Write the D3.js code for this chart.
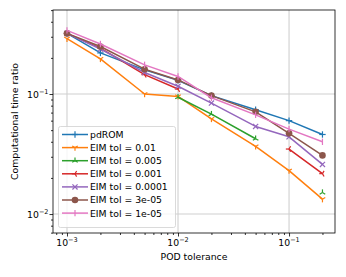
<!DOCTYPE html>
<html>
<head>
<meta charset="utf-8">
<script src="https://cdn.jsdelivr.net/npm/d3@7"></script>
<style>
  body { margin: 0; background: #fff; }
  text { font-family: "DejaVu Sans", sans-serif; }
</style>
</head>
<body>
<svg id="chart" width="346" height="277"></svg>
<script>
const podTol = [0.001, 0.002, 0.005, 0.01, 0.02, 0.05, 0.1, 0.2];
const pdROM   = [0.32, 0.22, 0.159, 0.13, 0.097, 0.074, 0.060, 0.046];
const eim0p01 = [0.289, 0.196, 0.100, 0.0955, 0.062, 0.0366, 0.023, 0.0133];
const eim0p005 = [null, null, null, 0.094, 0.068, 0.0424, null, 0.0151];
const eim0p001 = [0.32, 0.241, 0.145, 0.110, null, null, 0.0348, 0.0217];
const eim1e4  = [0.32, 0.237, 0.151, 0.116, 0.084, 0.0537, 0.044, 0.0259];
const eim3e5  = [0.32, 0.249, 0.161, 0.131, 0.097, 0.071, 0.047, 0.0308];
const eim1e5  = [0.339, 0.261, 0.175, 0.140, 0.093, 0.067, 0.051, 0.040];
const seriesNames = ["pdROM", "EIM tol = 0.01", "EIM tol = 0.005", "EIM tol = 0.001",
  "EIM tol = 0.0001", "EIM tol = 3e-05", "EIM tol = 1e-05"];
const xTicks = [1e-3, 1e-2, 1e-1];
const yTicks = [1e-2, 1e-1];

const seriesValues = [pdROM, eim0p01, eim0p005, eim0p001, eim1e4, eim3e5, eim1e5];
const colors = ["#1f77b4", "#ff7f0e", "#2ca02c", "#d62728", "#9467bd", "#8c564b", "#e377c2"];
const markers = ["plus", "tri_down", "tri_up", "tri_left", "x", "circle", "vline"];

const svg = d3.select("#chart");
const mLeft = 53, mRight = 335, mTop = 10, mBottom = 233;

const x = d3.scaleLog().domain([Math.pow(10, -3.126), Math.pow(10, -0.586)]).range([mLeft, mRight]);
const y = d3.scaleLog().domain([Math.pow(10, -2.158), Math.pow(10, -0.3)]).range([mBottom, mTop]);

// grid
const g = svg.append("g");
g.selectAll("line.gx").data(xTicks).enter().append("line")
  .attr("x1", d => x(d)).attr("x2", d => x(d)).attr("y1", mTop).attr("y2", mBottom)
  .attr("stroke", "#d0d0d0").attr("stroke-width", 1.1);
g.selectAll("line.gy").data(yTicks).enter().append("line")
  .attr("y1", d => y(d)).attr("y2", d => y(d)).attr("x1", mLeft).attr("x2", mRight)
  .attr("stroke", "#d0d0d0").attr("stroke-width", 1.1);

// minor ticks
function minorTicks(domain) {
  const out = [];
  const lo = Math.floor(Math.log10(domain[0])), hi = Math.ceil(Math.log10(domain[1]));
  for (let e = lo; e <= hi; e++)
    for (let m = 2; m <= 9; m++) {
      const v = m * Math.pow(10, e);
      if (v >= domain[0] && v <= domain[1]) out.push(v);
    }
  return out;
}

const xAxis = d3.axisBottom(x).tickValues(minorTicks(x.domain())).tickSize(2).tickFormat("");
const yAxis = d3.axisLeft(y).tickValues(minorTicks(y.domain())).tickSize(2).tickFormat("");
svg.append("g").attr("transform", `translate(0,${mBottom})`).call(xAxis).call(s => s.select(".domain").remove());
svg.append("g").attr("transform", `translate(${mLeft},0)`).call(yAxis).call(s => s.select(".domain").remove());

const xMaj = svg.append("g").attr("transform", `translate(0,${mBottom})`)
  .call(d3.axisBottom(x).tickValues(xTicks).tickSize(3.5).tickFormat(""));
xMaj.select(".domain").remove();
const yMaj = svg.append("g").attr("transform", `translate(${mLeft},0)`)
  .call(d3.axisLeft(y).tickValues(yTicks).tickSize(3.5).tickFormat(""));
yMaj.select(".domain").remove();
svg.selectAll(".tick line").attr("stroke", "#000").attr("stroke-width", 0.8);

// tick labels with superscript
function powLabel(sel, v) {
  const e = Math.round(Math.log10(v));
  sel.append("tspan").text("10");
  sel.append("tspan").attr("font-size", 6.5).attr("dy", -4).text("\u2212" + Math.abs(e));
}
xTicks.forEach(v => {
  const t = svg.append("text").attr("x", x(v)).attr("y", mBottom + 13)
    .attr("text-anchor", "middle").attr("font-size", 9.3).attr("fill", "#000");
  powLabel(t, v);
});
yTicks.forEach(v => {
  const t = svg.append("text").attr("x", mLeft - 4.5).attr("y", y(v) + 3.5)
    .attr("text-anchor", "end").attr("font-size", 9.3).attr("fill", "#000");
  powLabel(t, v);
});

svg.append("text").attr("x", (mLeft + mRight) / 2).attr("y", 260).attr("text-anchor", "middle")
  .attr("font-size", 9.3).text("POD tolerance");
svg.append("text").attr("transform", `translate(18,${(mTop + mBottom) / 2}) rotate(-90)`)
  .attr("text-anchor", "middle").attr("font-size", 9.3).text("Computational time ratio");

// markers
function drawMarker(sel, type, color, cx, cy) {
  const s = 3.2;
  const p = sel.append("g").attr("transform", `translate(${cx},${cy})`);
  const ln = (x1, y1, x2, y2) => p.append("line").attr("x1", x1).attr("y1", y1).attr("x2", x2).attr("y2", y2)
    .attr("stroke", color).attr("stroke-width", 1.2);
  if (type === "plus") { ln(-s, 0, s, 0); ln(0, -s, 0, s); }
  else if (type === "x") { ln(-s * 0.8, -s * 0.8, s * 0.8, s * 0.8); ln(-s * 0.8, s * 0.8, s * 0.8, -s * 0.8); }
  else if (type === "vline") { ln(0, -s, 0, s); }
  else if (type === "circle") { p.append("circle").attr("r", 3.3).attr("fill", color); }
  else {
    const rot = { tri_down: 0, tri_up: 180, tri_left: 90 }[type];
    const q = p.append("g").attr("transform", `rotate(${rot})`);
    [[0, s], [-s * 0.87, -s * 0.5], [s * 0.87, -s * 0.5]].forEach(([a, b]) =>
      q.append("line").attr("x1", 0).attr("y1", 0).attr("x2", a).attr("y2", b)
        .attr("stroke", color).attr("stroke-width", 1.2));
  }
}

const plot = svg.append("g");
const line = d3.line().defined(d => d[1] != null).x(d => x(d[0])).y(d => y(d[1]));
seriesValues.forEach((vals, i) => {
  const pts = podTol.map((t, j) => [t, vals[j]]);
  plot.append("path").datum(pts).attr("d", line).attr("fill", "none")
    .attr("stroke", colors[i]).attr("stroke-width", 1.5).attr("stroke-linejoin", "round");
  pts.filter(d => d[1] != null).forEach(d => drawMarker(plot, markers[i], colors[i], x(d[0]), y(d[1])));
});

// spines
svg.append("rect").attr("x", mLeft).attr("y", mTop).attr("width", mRight - mLeft).attr("height", mBottom - mTop)
  .attr("fill", "none").attr("stroke", "#000").attr("stroke-width", 0.8);

// legend
const lg = svg.append("g");
lg.append("rect").attr("x", 58.5).attr("y", 126.5).attr("width", 117).attr("height", 101)
  .attr("rx", 2).attr("fill", "#fff").attr("fill-opacity", 0.8).attr("stroke", "#d0d0d0").attr("stroke-width", 0.8);
seriesNames.forEach((name, i) => {
  const ly = 134.5 + i * 13.1;
  lg.append("line").attr("x1", 62).attr("x2", 88).attr("y1", ly).attr("y2", ly)
    .attr("stroke", colors[i]).attr("stroke-width", 1.5);
  drawMarker(lg, markers[i], colors[i], 75, ly);
  lg.append("text").attr("x", 90).attr("y", ly + 3.4).attr("font-size", 9.3).text(name);
});
</script>
</body>
</html>
